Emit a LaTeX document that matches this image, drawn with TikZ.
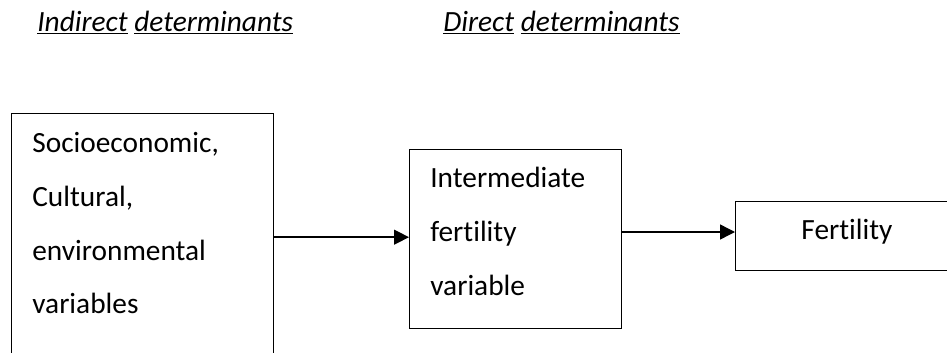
\documentclass[tikz,border=0pt]{standalone}
\usepackage{fontspec}
\setmainfont[Ligatures=NoCommon]{Carlito}
\usetikzlibrary{arrows.meta}

\begin{document}
\begin{tikzpicture}[x=0.02cm, y=-0.02cm, font=\fontsize{16.7}{20}\selectfont,
        every node/.style={inner sep=0pt, anchor=base west},
        box/.style={draw, line width=0.8pt, anchor=north west},
        link/.style={line width=0.8pt, -{Triangle[length=8.5pt,width=8.5pt]}}]
        \useasboundingbox (0,0) rectangle (947,352);
        \clip (0,0) rectangle (947,352);
        % headings
        \node (indirect) at (37,31) {\itshape\underline{Indirect} \underline{determinants}};
        \node (direct) at (443,31) {\itshape\underline{Direct} \underline{determinants}};
        % boxes
        \begin{scope}[every node/.style={box, minimum width=0pt, minimum height=0pt, inner sep=0pt}]
                \node [minimum width=5.24cm, minimum height=4.94cm] (box1) at (11,113) {};
                \node [minimum width=4.24cm, minimum height=3.58cm] (box2) at (409,149) {};
                \node [minimum width=4.5cm, minimum height=1.38cm] (box3) at (735,201) {};
        \end{scope}
        % texts
        \node (soc) at (32,152) {Socioeconomic,};
        \node (cul) at (32,206) {Cultural,};
        \node (env) at (32,260) {environmental};
        \node (var) at (32,313) {variables};
        \node (inter) at (430,187) {Intermediate};
        \node (fert) at (430,241) {fertility};
        \node (varb) at (430,295) {variable};
        \node [anchor=base] (fertility) at (847,239) {Fertility};
        % arrows
        \coordinate (a2) at (0,232);
        \draw[link] (box1.east) -- (box1.east -| box2.west);
        \draw[link] (box2.east |- a2) -- (box3.west |- a2);
\end{tikzpicture}
\end{document}
